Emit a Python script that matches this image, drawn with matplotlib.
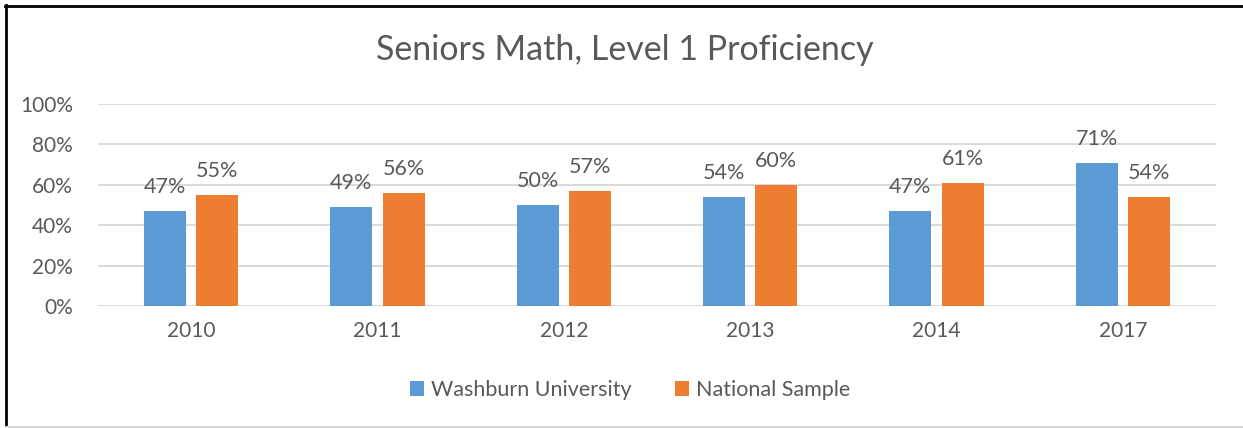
import matplotlib.pyplot as plt
import numpy as np
from matplotlib.lines import Line2D

plt.rcParams['font.family'] = ['Lato', 'DejaVu Sans']

years = ["2010", "2011", "2012", "2013", "2014", "2017"]
washburn = [47, 49, 50, 54, 47, 71]
national = [55, 56, 57, 60, 61, 54]

blue = "#5B9BD5"
orange = "#ED7D31"
txt = "#595959"
grid = "#D9D9D9"

W, H = 1243, 428
fig = plt.figure(figsize=(W / 100, H / 100), dpi=100)
ax = fig.add_axes([98 / W, 122 / H, (1216 - 98) / W, 202 / H])

x = np.arange(len(years))
bw = 0.225
off = 0.14
b1 = ax.bar(x - off, washburn, bw, color=blue, label="Washburn University", zorder=3)
b2 = ax.bar(x + off, national, bw, color=orange, label="National Sample", zorder=3)

for bars, vals in ((b1, washburn), (b2, national)):
    for b, v in zip(bars, vals):
        ax.annotate(f"{v}%", (b.get_x() + b.get_width() / 2, v),
                    xytext=(0, 13), textcoords="offset points",
                    ha="center", va="baseline", fontsize=15.5, color=txt)

ax.set_xlim(-0.5, len(years) - 0.5)
ax.set_ylim(0, 100)
ax.set_yticks(range(0, 101, 20))
ax.set_yticklabels([f"{t}%" for t in range(0, 101, 20)])
ax.set_xticks(x)
ax.set_xticklabels(years)
ax.tick_params(length=0, labelsize=15, colors=txt)
ax.tick_params(axis="y", pad=18)
ax.tick_params(axis="x", pad=11)
ax.yaxis.grid(True, color=grid, linewidth=1.4, zorder=0)
for s in ax.spines.values():
    s.set_visible(False)

fig.text(625 / W, 1 - 50 / H, "Seniors Math, Level 1 Proficiency",
         ha="center", va="center", fontsize=24.5, color=txt)

fig.legend(loc="center", bbox_to_anchor=(630 / W, 1 - 390 / H), ncol=2,
           frameon=False, fontsize=15.5, labelcolor=txt, handlelength=0.65,
           handleheight=0.65, handletextpad=0.35, columnspacing=2.0)

# outer frame
fig.add_artist(Line2D([6 / W, 6 / W], [0, 1 - 5 / H], color="black", linewidth=2, transform=fig.transFigure))
fig.add_artist(Line2D([5 / W, 1], [1 - 5.5 / H, 1 - 5.5 / H], color="black", linewidth=2, transform=fig.transFigure))
fig.add_artist(Line2D([6 / W, 1], [1.5 / H, 1.5 / H], color=grid, linewidth=1.5, transform=fig.transFigure))

fig.savefig("out.png", dpi=100)
